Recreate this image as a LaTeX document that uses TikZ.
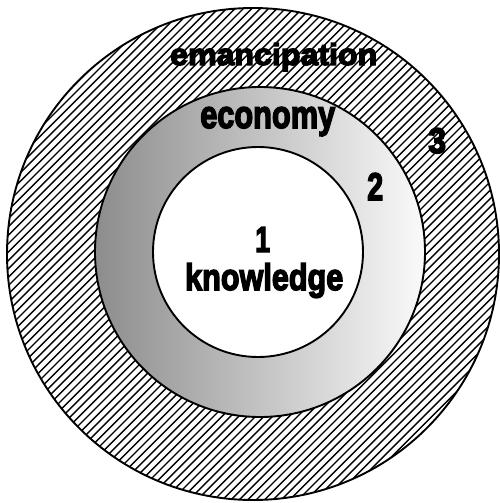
\documentclass[tikz,border=0pt]{standalone}
\usepackage{fontspec}
\usepackage{graphicx}
\newfontfamily\impfont[FakeBold=4]{Liberation Sans Bold}
\definecolor{gleft}{gray}{0.55}
\definecolor{gright}{gray}{0.98}
\begin{document}
\begin{tikzpicture}[x=1pt,y=-1pt,
  ring/.style={line width=1.9pt},
  hatchline/.style={line width=1.4pt},
  lbl/.style={anchor=base west,inner sep=0pt,font=\impfont}]
\useasboundingbox (0,0) rectangle (499,503);
% outer hatched disc
\begin{scope}
  \clip (253,254) circle (246);
  \foreach \c in {0,8.4,...,1010}{
    \draw[hatchline] (\c,0) -- (0,\c);
  }
\end{scope}
% middle shaded disc
\shade[left color=gleft,right color=gright] (260,252) circle (165);
% inner white disc
\fill[white] (258,252) circle (105);
% outlines
\draw[ring] (253,254) circle (246);
\draw[ring] (260,252) circle (165);
\draw[ring] (258,252) circle (105);
% labels
\node[lbl] (eman) at (170,65) {\resizebox{207pt}{22pt}{emancipation}};
\node[lbl] (econ) at (200,128) {\resizebox{135pt}{21pt}{economy}};
\node[lbl] (three) at (428,153) {\resizebox{18pt}{25pt}{3}};
\node[lbl] (two) at (367,200) {\resizebox{16pt}{27pt}{2}};
\node[lbl] (one) at (255,252) {\resizebox{15pt}{25pt}{1}};
\node[lbl] (know) at (185,290) {\resizebox{158pt}{27pt}{knowledge}};
\end{tikzpicture}
\end{document}
